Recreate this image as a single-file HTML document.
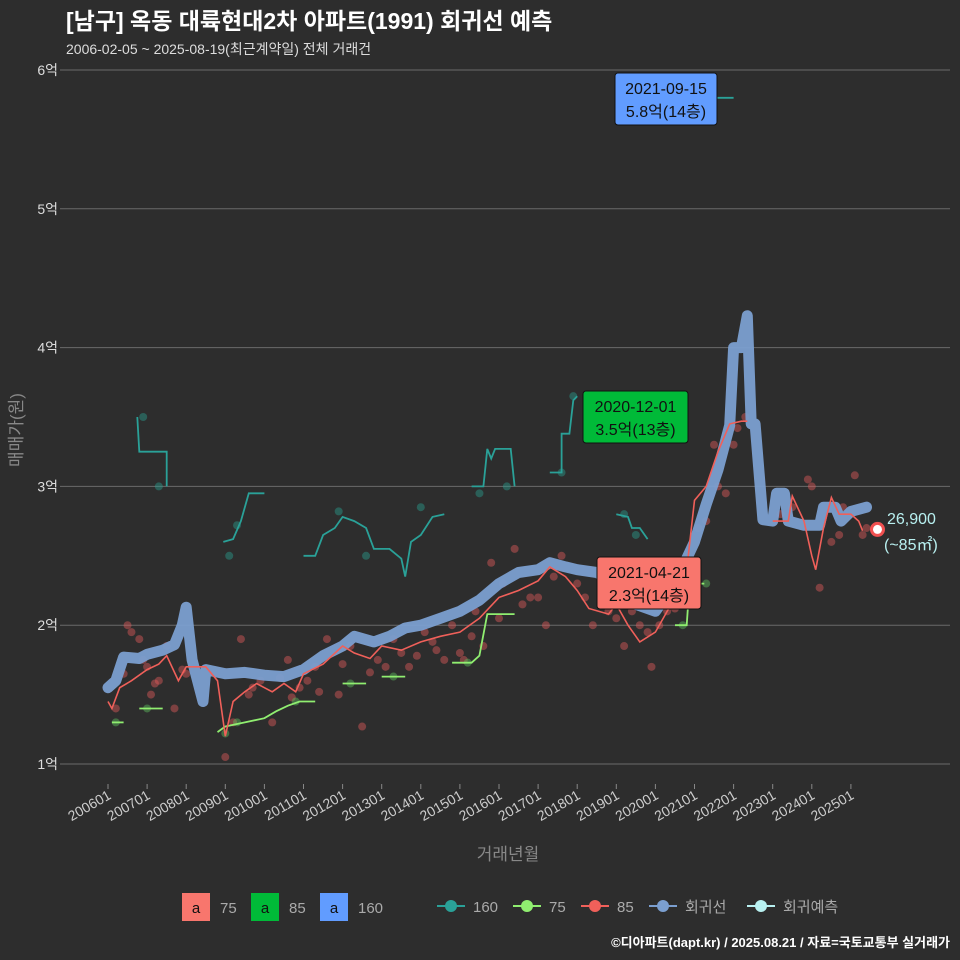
<!DOCTYPE html>
<html><head><meta charset="utf-8">
<style>
body{margin:0;background:#2d2d2d;}
svg{display:block;font-family:"Liberation Sans","Noto Sans CJK KR",sans-serif;}
</style></head>
<body>
<svg id="chart" width="960" height="960" viewBox="0 0 960 960" xmlns="http://www.w3.org/2000/svg">
<rect width="960" height="960" fill="#2d2d2d"/>
<text x="66" y="29" fill="#ffffff" font-size="23" font-weight="bold">[남구] 옥동 대륙현대2차 아파트(1991) 회귀선 예측</text>
<text x="66" y="54" fill="#dddddd" font-size="14">2006-02-05 ~ 2025-08-19(최근계약일) 전체 거래건</text>
<g id="grid"></g>
<g id="marks"></g>
<g id="labels"></g>
<text transform="translate(22,430) rotate(-90)" text-anchor="middle" fill="#888" font-size="17">매매가(원)</text>
<text x="508" y="860" text-anchor="middle" fill="#888" font-size="17">거래년월</text>
<g id="legend"></g>
<text x="950" y="947" text-anchor="end" fill="#fff" font-size="13" font-weight="bold">©디아파트(dapt.kr) / 2025.08.21 / 자료=국토교통부 실거래가</text>
</svg>
<script>
const yTicks=[1,2,3,4,5,6];
const xTickYears=[2006,2007,2008,2009,2010,2011,2012,2013,2014,2015,2016,2017,2018,2019,2020,2021,2022,2023,2024,2025];
const regT=[2006.0,2006.2,2006.4,2006.8,2007.0,2007.4,2007.7,2007.9,2008.0,2008.15,2008.43,2008.5,2009.0,2009.5,2010.0,2010.5,2011.0,2011.5,2012.0,2012.3,2012.8,2013.2,2013.6,2014.0,2014.5,2015.0,2015.5,2016.0,2016.5,2017.0,2017.3,2017.7,2018.0,2018.5,2019.0,2019.5,2020.0,2020.5,2021.0,2021.3,2021.6,2021.9,2022.0,2022.2,2022.35,2022.45,2022.55,2022.75,2023.0,2023.1,2023.3,2023.4,2023.8,2024.2,2024.3,2024.6,2024.75,2025.0,2025.4];
const regV=[1.55,1.6,1.77,1.76,1.79,1.82,1.86,2.0,2.13,1.75,1.45,1.68,1.65,1.66,1.64,1.63,1.68,1.78,1.85,1.92,1.88,1.92,1.98,2.0,2.05,2.1,2.18,2.3,2.38,2.4,2.45,2.42,2.4,2.38,2.3,2.15,2.1,2.3,2.6,2.87,3.12,3.44,4.0,4.0,4.23,3.45,3.45,2.76,2.75,2.95,2.95,2.75,2.72,2.72,2.85,2.85,2.75,2.82,2.85];
const r85T=[2006.0,2006.1,2006.3,2006.6,2007.0,2007.3,2007.5,2007.8,2008.0,2008.5,2008.8,2009.0,2009.2,2009.5,2009.8,2010.2,2010.5,2010.8,2011.0,2011.5,2012.0,2012.3,2012.7,2013.0,2013.5,2014.0,2014.5,2015.0,2015.5,2016.0,2016.5,2017.0,2017.3,2017.7,2018.0,2018.3,2018.8,2019.0,2019.3,2019.6,2020.0,2020.5,2020.8,2021.0,2021.3,2021.6,2021.9,2022.2,2022.35];
const r85V=[1.45,1.4,1.55,1.6,1.68,1.72,1.78,1.6,1.7,1.7,1.6,1.2,1.45,1.52,1.58,1.52,1.58,1.52,1.65,1.72,1.85,1.8,1.76,1.85,1.82,1.88,1.92,1.95,2.05,2.2,2.25,2.32,2.42,2.35,2.25,2.12,2.08,2.15,2.0,1.88,1.95,2.2,2.4,2.9,3.0,3.25,3.45,3.47,3.47];
const r85bT=[2023.0,2023.4,2023.5,2023.8,2024.0,2024.1,2024.3,2024.5,2024.7,2025.0,2025.2,2025.3];
const r85bV=[2.75,2.75,2.93,2.75,2.5,2.4,2.7,2.92,2.8,2.8,2.75,2.68];
const teal=[
 [[2006.75,3.5],[2006.8,3.25],[2007.5,3.25],[2007.5,3.0]],
 [[2008.95,2.6],[2009.2,2.62],[2009.4,2.75],[2009.6,2.95],[2010.0,2.95]],
 [[2011.0,2.5],[2011.3,2.5],[2011.5,2.65],[2011.8,2.7],[2012.0,2.78],[2012.3,2.75],[2012.6,2.7],[2012.8,2.55],[2013.2,2.55],[2013.5,2.48],[2013.6,2.35],[2013.75,2.6],[2014.0,2.65],[2014.3,2.78],[2014.6,2.8]],
 [[2015.3,3.0],[2015.6,3.0],[2015.7,3.27],[2015.8,3.2],[2015.9,3.27],[2016.3,3.27],[2016.4,3.0]],
 [[2017.3,3.1],[2017.6,3.1],[2017.6,3.38],[2017.8,3.38],[2017.9,3.62],[2018.0,3.65]],
 [[2019.0,2.8],[2019.3,2.78],[2019.4,2.7],[2019.6,2.7],[2019.8,2.62]],
 [[2020.5,3.6],[2020.8,3.6]],
 [[2021.55,5.8],[2022.0,5.8]]
];
const green=[
 [[2006.1,1.3],[2006.4,1.3]],
 [[2006.8,1.4],[2007.4,1.4]],
 [[2008.8,1.23],[2009.0,1.27],[2009.5,1.3],[2010.0,1.33],[2010.3,1.38],[2010.6,1.42],[2010.9,1.45],[2011.3,1.45]],
 [[2012.0,1.58],[2012.6,1.58]],
 [[2013.0,1.63],[2013.6,1.63]],
 [[2014.8,1.73],[2015.3,1.73],[2015.5,1.78],[2015.7,2.08],[2016.4,2.08]],
 [[2020.5,2.0],[2020.8,2.0],[2020.85,2.2],[2021.0,2.3],[2021.25,2.3]]
];
const redDotT=[2006.2,2006.5,2006.6,2006.8,2007.0,2007.1,2007.3,2007.5,2007.7,2008.0,2009.0,2009.4,2009.6,2009.9,2010.2,2010.6,2010.9,2011.3,2011.6,2011.9,2012.2,2012.5,2012.9,2013.3,2013.7,2014.1,2014.4,2014.8,2015.1,2015.4,2015.8,2016.1,2016.4,2016.8,2017.2,2017.6,2018.0,2018.4,2018.8,2019.2,2019.6,2019.9,2020.3,2020.7,2021.1,2021.5,2021.8,2022.1,2022.3,2023.5,2023.9,2024.2,2024.5,2024.8,2025.1,2025.3,
 2006.4,2006.9,2007.2,2007.9,2009.2,2009.7,2010.4,2010.7,2011.1,2011.4,2012.0,2012.7,2013.1,2013.5,2013.9,2014.3,2014.6,2015.0,2015.3,2015.6,2016.0,2016.6,2017.0,2017.4,2018.2,2018.6,2019.0,2019.4,2019.8,2020.1,2020.5,2021.3,2021.6,2022.0,2023.2,2024.0,2024.7,2025.4];
const redDotV=[1.4,2.0,1.95,1.9,1.7,1.5,1.6,1.85,1.4,1.65,1.05,1.9,1.5,1.6,1.3,1.75,1.55,1.7,1.9,1.5,1.85,1.27,1.75,1.9,1.7,1.95,1.82,2.0,1.75,2.1,2.45,2.3,2.55,2.2,2.0,2.5,2.3,2.0,2.1,1.85,2.0,1.7,2.1,2.3,2.7,3.3,2.95,3.42,3.5,2.85,3.05,2.27,2.6,2.85,3.08,2.65,
 1.65,1.75,1.58,1.68,1.3,1.55,1.62,1.48,1.6,1.52,1.72,1.66,1.7,1.8,1.78,1.88,1.75,1.8,1.92,1.85,2.05,2.15,2.2,2.35,2.2,2.15,2.05,2.1,1.95,2.0,2.12,2.75,3.0,3.3,2.8,3.0,2.65,2.7];
const tealDotT=[2006.9,2007.3,2009.1,2009.3,2011.9,2012.6,2014.0,2015.5,2016.2,2017.6,2017.9,2019.2,2019.5,2020.6];
const tealDotV=[3.5,3.0,2.5,2.72,2.82,2.5,2.85,2.95,3.0,3.1,3.65,2.8,2.65,3.6];
const greenDotT=[2006.2,2007.0,2009.0,2009.3,2010.8,2012.2,2013.3,2015.2,2020.7,2021.3];
const greenDotV=[1.3,1.4,1.22,1.3,1.45,1.58,1.63,1.73,2.0,2.3];

const NS='http://www.w3.org/2000/svg';
const X=t=>108+(t-2006)*39.1;
const Y=v=>764-(v-1)*138.8;
function mk(tag,attrs,parent){const e=document.createElementNS(NS,tag);for(const k in attrs)e.setAttribute(k,attrs[k]);parent.appendChild(e);return e;}
const grid=document.getElementById('grid'),marks=document.getElementById('marks'),labels=document.getElementById('labels'),leg=document.getElementById('legend');
yTicks.forEach(v=>{
 const l=mk('line',{x1:60,x2:950,y1:Y(v),y2:Y(v),stroke:'#6a6a6a','stroke-width':1},grid);
 
 
 const t=mk('text',{x:58,y:Y(v)+5,'text-anchor':'end',fill:'#ddd','font-size':14},grid);
 
 
 t.textContent=v+'억';
});
xTickYears.forEach(yr=>{
 const x=X(yr);
 const tk=mk('line',{x1:x,x2:x,y1:784,y2:789,stroke:'#888'},grid);
 
 
 const t=mk('text',{x:x+4,y:798,'text-anchor':'end',fill:'#ccc','font-size':14,transform:`rotate(-30 ${x+4} 798)`},grid);
 
 
 t.textContent=yr+'01';
});
function path(T,V){return T.map((t,i)=>(i?'L':'M')+X(t).toFixed(1)+','+Y(V[i]).toFixed(1)).join('');}
function pathP(pts){return pts.map((p,i)=>(i?'L':'M')+X(p[0]).toFixed(1)+','+Y(p[1]).toFixed(1)).join('');}
function dots(T,V,col,name){T.forEach((t,i)=>{const c=mk('circle',{cx:X(t),cy:Y(V[i]),r:4,fill:col,opacity:0.45},marks);
 
 });}
dots(redDotT,redDotV,'#e05a5a','trade-dot-85');
dots(tealDotT,tealDotV,'#2a9d8f','trade-dot-160');
dots(greenDotT,greenDotV,'#5fbf5f','trade-dot-75');
teal.forEach(s=>{const p=mk('path',{d:pathP(s),fill:'none',stroke:'#2aa198','stroke-width':1.8},marks);
 
 });
green.forEach(s=>{const p=mk('path',{d:pathP(s),fill:'none',stroke:'#90ee70','stroke-width':1.8},marks);
 
 });
const rg=mk('path',{d:path(regT,regV),fill:'none',stroke:'#7b9fd0','stroke-width':11,'stroke-linejoin':'round','stroke-linecap':'round',opacity:0.95},marks);


[[r85T,r85V],[r85bT,r85bV]].forEach(s=>{const p=mk('path',{d:path(s[0],s[1]),fill:'none',stroke:'#f0605a','stroke-width':1.6},marks);
 
 });
const pc=mk('circle',{cx:X(2025.68),cy:Y(2.69),r:6,fill:'#fff',stroke:'#f05050','stroke-width':3},marks);


function box(x,y,w,bg,l1,l2,name){const g=mk('g',{},labels);
 
 
 mk('rect',{x:x,y:y,width:w,height:52,rx:3,fill:bg,stroke:'#111'},g);
 const a=mk('text',{x:x+w/2,y:y+21,'text-anchor':'middle','font-size':16,fill:'#111'},g);a.textContent=l1;
 const b=mk('text',{x:x+w/2,y:y+44,'text-anchor':'middle','font-size':16,fill:'#111'},g);b.textContent=l2;}
box(615,73,102,'#619cff','2021-09-15','5.8억(14층)','label-max-160');
box(583,391,105,'#00ba38','2020-12-01','3.5억(13층)','label-max-75');
box(597,557,104,'#f8766d','2021-04-21','2.3억(14층)','label-max-85');
const p1=mk('text',{x:887,y:524,fill:'#b8f0f0','font-size':16},labels);p1.textContent='26,900';


const p2=mk('text',{x:884,y:550,fill:'#b8f0f0','font-size':16},labels);p2.textContent='(~85㎡)';


[['#f8766d','75',182],['#00ba38','85',251],['#619cff','160',320]].forEach(e=>{
 const g=mk('g',{},leg);
 
 
 mk('rect',{x:e[2],y:893,width:28,height:28,fill:e[0]},g);
 const a=mk('text',{x:e[2]+14,y:913,'text-anchor':'middle','font-size':15,fill:'#111'},g);a.textContent='a';
 const b=mk('text',{x:e[2]+38,y:913,'font-size':15,fill:'#aaa'},g);b.textContent=e[1];
});
[['#2aa198','160',437],['#90ee70','75',513],['#f0605a','85',581],['#7b9fd0','회귀선',649],['#b8f0f0','회귀예측',747]].forEach(e=>{
 const g=mk('g',{},leg);
 
 
 mk('line',{x1:e[2],x2:e[2]+28,y1:906,y2:906,stroke:e[0],'stroke-width':2},g);
 mk('circle',{cx:e[2]+14,cy:906,r:6,fill:e[0]},g);
 const b=mk('text',{x:e[2]+36,y:912,'font-size':15,fill:'#aaa'},g);b.textContent=e[1];
});
</script>
</body></html>
